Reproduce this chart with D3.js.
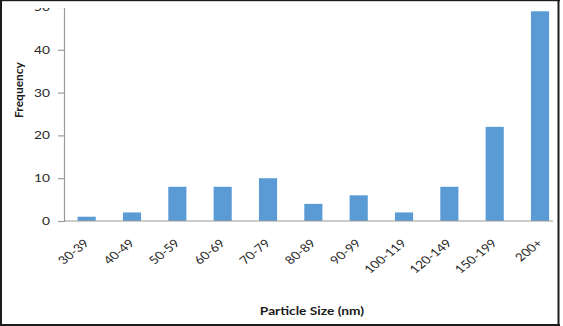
<!DOCTYPE html>
<html>
<head>
<meta charset="utf-8">
<script src="https://cdn.jsdelivr.net/npm/d3@7/dist/d3.min.js"></script>
<style>
  html, body { margin: 0; padding: 0; background: #fff; }
  svg { display: block; }
</style>
</head>
<body>
<script>
// Particle size distribution
const categories = ["30-39", "40-49", "50-59", "60-69", "70-79", "80-89", "90-99", "100-119", "120-149", "150-199", "200+"];
const frequencies = [1, 2, 8, 8, 10, 4, 6, 2, 8, 22, 49];
const yTicks = [0, 10, 20, 30, 40, 50];
const xTitle = "Particle Size (nm)";
const yTitle = "Frequency";

const W = 563, H = 326;
const stretch = 1.25; // text is drawn slightly wide
const tickFont = "Lato, 'Open Sans', sans-serif";

const svg = d3.select("body").append("svg")
  .attr("width", W).attr("height", H);

svg.append("rect").attr("width", W).attr("height", H).attr("fill", "#fff");

svg.append("defs").append("clipPath").attr("id", "frame")
  .append("rect").attr("x", 2).attr("y", 8).attr("width", 556).attr("height", 316);

const g = svg.append("g").attr("clip-path", "url(#frame)");

const x = d3.scaleBand()
  .domain(categories)
  .range([64, 562.7])
  .paddingInner(0.6)
  .paddingOuter(0.3);

const y = d3.scaleLinear()
  .domain([0, 50])
  .range([221, 7]);

// bars
g.selectAll("rect.bar")
  .data(categories)
  .join("rect")
  .attr("class", "bar")
  .attr("x", d => x(d))
  .attr("width", x.bandwidth())
  .attr("y", (d, i) => y(frequencies[i]))
  .attr("height", (d, i) => y(0) - y(frequencies[i]))
  .attr("fill", "#5b9bd5");

// y axis
const yAxis = g.append("g")
  .attr("transform", "translate(64,0)")
  .call(d3.axisLeft(y).tickValues(yTicks).tickSize(6).tickFormat(d3.format("d")));
yAxis.select(".domain").attr("stroke", "#9a9a9a").attr("stroke-width", 1.2);
yAxis.selectAll(".tick line").attr("stroke", "#9a9a9a").attr("stroke-width", 1.2);
yAxis.selectAll(".tick text")
  .attr("x", null)
  .attr("fill", "#2a2a2a")
  .attr("font-family", tickFont)
  .attr("font-size", 11)
  .attr("text-anchor", "end")
  .attr("transform", `translate(-14,0) scale(${stretch},1)`);

// x axis line
const xAxis = g.append("g")
  .attr("transform", `translate(0,${y(0)})`)
  .call(d3.axisBottom(x).tickSize(0).tickFormat(""));
xAxis.select(".domain").remove();
xAxis.append("line")
  .attr("x1", 64).attr("x2", 553)
  .attr("stroke", "#9a9a9a").attr("stroke-width", 1.2);

// rotated category labels
g.append("g").selectAll("text")
  .data(categories)
  .join("text")
  .attr("transform", d => `translate(${x(d) + x.bandwidth() / 2 + 3.3},244) scale(${stretch},1) rotate(-45)`)
  .attr("text-anchor", "end")
  .attr("font-family", tickFont)
  .attr("font-size", 11)
  .attr("fill", "#2a2a2a")
  .text(d => d);

// axis titles
g.append("text")
  .attr("transform", `translate(312,315) scale(${stretch},1)`)
  .attr("text-anchor", "middle")
  .attr("font-family", tickFont)
  .attr("font-weight", "bold")
  .attr("font-size", 11)
  .attr("fill", "#1a1a1a")
  .text(xTitle);

g.append("text")
  .attr("transform", "translate(22.5,90) rotate(-90)")
  .attr("text-anchor", "middle")
  .attr("font-family", tickFont)
  .attr("font-weight", "bold")
  .attr("font-size", 12)
  .attr("fill", "#1a1a1a")
  .text(yTitle);

// frame
const frame = svg.append("g").attr("fill", "#1c1c1c");
frame.append("rect").attr("x", 0).attr("y", 0).attr("width", 560).attr("height", 1.2);
frame.append("rect").attr("x", 0).attr("y", 0).attr("width", 2).attr("height", H);
frame.append("rect").attr("x", 557.5).attr("y", 0).attr("width", 2).attr("height", H);
frame.append("rect").attr("x", 0).attr("y", 324).attr("width", 560).attr("height", 2);
</script>
</body>
</html>
